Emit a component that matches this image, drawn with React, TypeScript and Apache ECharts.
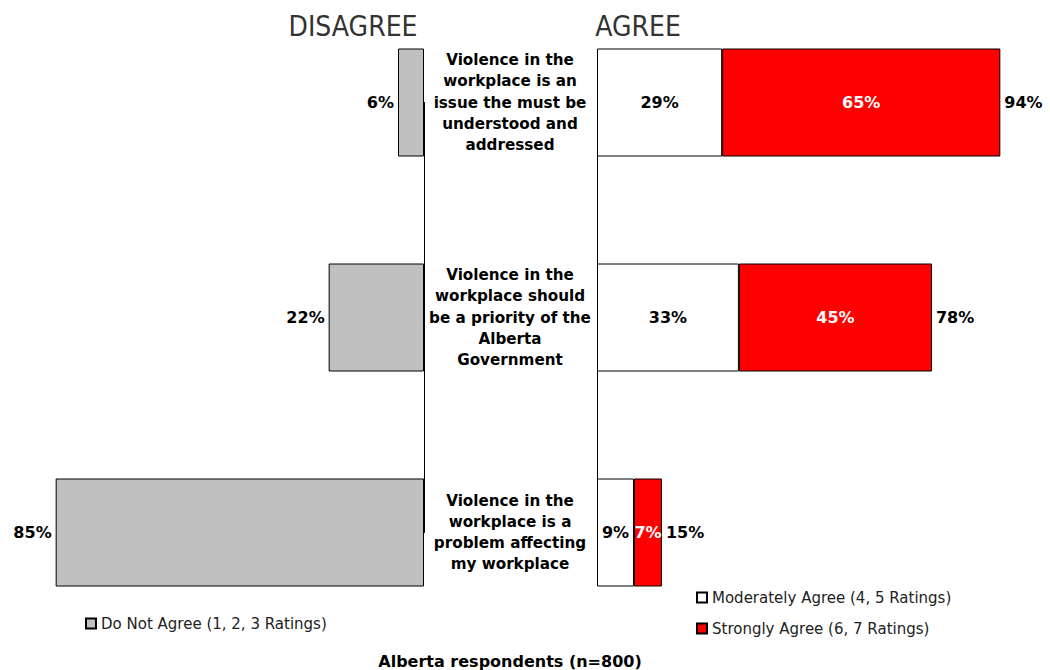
import React, { useEffect, useRef } from "react";
import * as echarts from "echarts";

const categories = [
  "Violence in the\nworkplace is an\nissue the must be\nunderstood and\naddressed",
  "Violence in the\nworkplace should\nbe a priority of the\nAlberta\nGovernment",
  "Violence in the\nworkplace is a\nproblem affecting\nmy workplace",
];
const doNotAgree = [6, 22, 85];
const moderatelyAgree = [29.1, 33.0, 8.6];
const stronglyAgree = [64.7, 44.9, 6.5];
const agreeTotals = [94, 78, 15];

const FONT = "'DejaVu Sans', sans-serif";
const TITLE_FONT = "'DejaVu Sans Condensed', 'DejaVu Sans', sans-serif";

export default function App() {
  const ref = useRef<HTMLDivElement>(null);
  useEffect(() => {
    if (!ref.current) return;
    const chart = echarts.init(ref.current, undefined, { renderer: "svg" });
    const pct = (p: any) => Math.round(p.value) + "%";
    const barLabel = { fontFamily: FONT, fontWeight: "bold" as const, fontSize: 16, color: "#000" };
    const option: any = {
      animation: false,
      backgroundColor: "#fff",
      textStyle: { fontFamily: FONT },
      title: [
        { text: "DISAGREE", left: 348, top: 7, textAlign: "center", textStyle: { fontFamily: TITLE_FONT, fontSize: 28, fontWeight: "normal", color: "#333" } },
        { text: "AGREE", left: 633, top: 7, textAlign: "center", textStyle: { fontFamily: TITLE_FONT, fontSize: 28, fontWeight: "normal", color: "#333" } },
        { text: "Alberta respondents (n=800)", left: 505, top: 648, textAlign: "center", textStyle: { fontFamily: FONT, fontSize: 16, fontWeight: "bold", color: "#000" } },
      ],
      legend: [
        {
          data: ["Do Not Agree (1, 2, 3 Ratings)"],
          left: 80, top: 611, orient: "vertical", icon: "rect", itemWidth: 10, itemHeight: 10, itemGap: 6,
          textStyle: { fontFamily: FONT, fontSize: 15, color: "#222" },
        },
        {
          data: ["Moderately Agree (4, 5 Ratings)", "Strongly Agree (6, 7 Ratings)"],
          left: 691, top: 585, orient: "vertical", icon: "rect", itemWidth: 10, itemHeight: 10, itemGap: 16,
          textStyle: { fontFamily: FONT, fontSize: 15, color: "#222" },
        },
      ],
      grid: [
        { left: 34, width: 390, top: 102.5, height: 430 },
        { left: 597, width: 430, top: 102.5, height: 430 },
      ],
      xAxis: [
        { gridIndex: 0, type: "value", min: 0, max: 90, inverse: true, show: false },
        { gridIndex: 1, type: "value", min: 0, max: 100, show: false },
      ],
      yAxis: [
        {
          gridIndex: 0, type: "category", data: categories, boundaryGap: false, inverse: true, position: "right",
          axisLine: { show: true, lineStyle: { color: "#000", width: 1 } }, axisTick: { show: false }, axisLabel: { show: false },
        },
        {
          gridIndex: 1, type: "category", data: categories, boundaryGap: false, inverse: true, position: "left",
          axisLine: { show: true, lineStyle: { color: "#000", width: 1 } }, axisTick: { show: false },
          axisLabel: { show: true, align: "center", margin: 87, fontFamily: FONT, fontWeight: "bold", fontSize: 15.2, lineHeight: 21.3, color: "#000" },
        },
      ],
      series: [
        {
          name: "Do Not Agree (1, 2, 3 Ratings)", type: "bar", xAxisIndex: 0, yAxisIndex: 0, data: doNotAgree,
          barWidth: 108, clip: false,
          itemStyle: { color: "#C0C0C0", borderColor: "#000", borderWidth: 1 },
          label: { show: true, position: "left", distance: 4, formatter: pct, ...barLabel },
        },
        {
          name: "Moderately Agree (4, 5 Ratings)", type: "bar", xAxisIndex: 1, yAxisIndex: 1, stack: "agree", data: moderatelyAgree,
          barWidth: 108, clip: false,
          itemStyle: { color: "#FFFFFF", borderColor: "#000", borderWidth: 1 },
          label: { show: true, position: "inside", formatter: pct, ...barLabel },
        },
        {
          name: "Strongly Agree (6, 7 Ratings)", type: "bar", xAxisIndex: 1, yAxisIndex: 1, stack: "agree", data: stronglyAgree,
          barWidth: 108, clip: false,
          itemStyle: { color: "#FF0000", borderColor: "#000", borderWidth: 1 },
          label: { show: true, position: "inside", formatter: pct, ...barLabel, color: "#fff" },
        },
        {
          name: "Total", type: "bar", xAxisIndex: 1, yAxisIndex: 1, stack: "agree", data: agreeTotals.map(() => 0),
          barWidth: 108, clip: false, silent: true,
          itemStyle: { color: "rgba(0,0,0,0)", borderWidth: 0 },
          label: { show: true, position: "right", distance: 4, formatter: (p: any) => agreeTotals[p.dataIndex] + "%", ...barLabel },
        },
      ],
    };
    chart.setOption(option);
    return () => chart.dispose();
  }, []);
  return <div ref={ref} style={{ position: "absolute", left: 0, top: 0, width: 1050, height: 670 }} />;
}
